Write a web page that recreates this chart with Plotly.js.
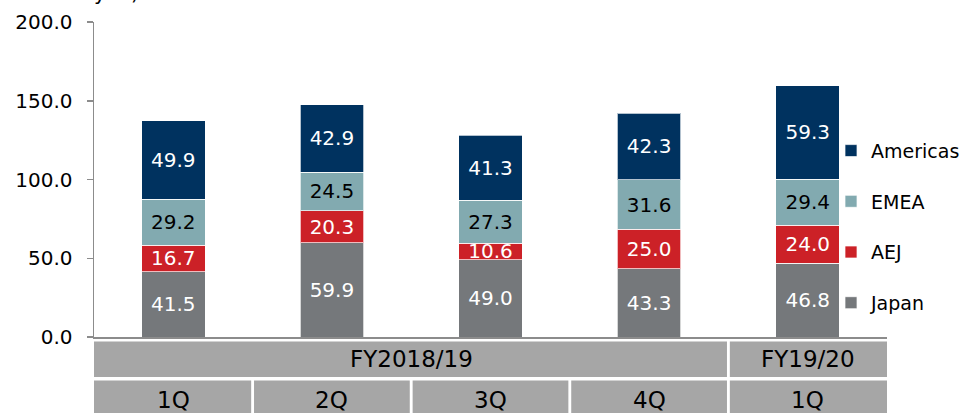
<!DOCTYPE html>
<html>
<head>
<meta charset="utf-8">
<script src="https://cdn.plot.ly/plotly-3.0.1.min.js"></script>
<style>
html,body{margin:0;padding:0;background:#fff;}
#chart{width:961px;height:413px;}
</style>
</head>
<body>
<div id="chart"></div>
<script>
// ---- data ----
const quarterLabels = ['1Q', '2Q', '3Q', '4Q', '1Q'];
const fiscalGroups = [
  {label: 'FY2018/19', start: 0, end: 3},
  {label: 'FY19/20', start: 4, end: 4}
];
const seriesNames = ['Japan', 'AEJ', 'EMEA', 'Americas'];
const japan    = [41.5, 59.9, 49.0, 43.3, 46.8];
const aej      = [16.7, 20.3, 10.6, 25.0, 24.0];
const emea     = [29.2, 24.5, 27.3, 31.6, 29.4];
const americas = [49.9, 42.9, 41.3, 42.3, 59.3];
const unitLabel = '(Billions of yen)';

// ---- styles ----
const seriesValues = [japan, aej, emea, americas];
const colors = ['#75787b', '#cc2127', '#82aab0', '#00325f'];
const labelColors = ['#ffffff', '#ffffff', '#000000', '#ffffff'];
const font = '"DejaVu Sans", Verdana, sans-serif';
const xIdx = quarterLabels.map((_, i) => i);

const traces = seriesNames.map((name, k) => ({
  type: 'bar',
  name: name,
  x: xIdx,
  y: seriesValues[k],
  width: 0.4,
  legendgroup: name,
  legendrank: seriesNames.length - k,
  marker: {color: colors[k], line: {color: 'rgba(255,255,255,0.7)', width: 1}},
  text: seriesValues[k].map(v => v.toFixed(1)),
  textposition: 'inside',
  insidetextanchor: 'middle',
  textangle: 0,
  constraintext: 'none',
  textfont: {family: font, size: 20, color: labelColors[k]},
  hoverinfo: 'skip'
}));

// table below the axis
const shapes = [];
const annotations = [];
const row1 = {y0: -0.014, y1: -0.127};
const row2 = {y0: -0.138, y1: -0.30};
const gap = 0.009;
const outer = 0.02;
const nCat = quarterLabels.length;
function cellX0(i) { return i === 0 ? -0.5 - outer : i - 0.5 + gap; }
function cellX1(i) { return i === nCat - 1 ? i + 0.5 + outer : i + 0.5 - gap; }
fiscalGroups.forEach(g => {
  shapes.push({type: 'rect', xref: 'x', yref: 'paper',
    x0: cellX0(g.start), x1: cellX1(g.end), y0: row1.y0, y1: row1.y1,
    fillcolor: '#a6a6a6', line: {width: 0}, layer: 'below'});
  annotations.push({xref: 'x', yref: 'paper', x: (g.start + g.end) / 2,
    y: -0.07, text: g.label, showarrow: false,
    xanchor: 'center', yanchor: 'middle',
    font: {family: font, size: 23, color: '#000'}});
});
quarterLabels.forEach((q, i) => {
  shapes.push({type: 'rect', xref: 'x', yref: 'paper',
    x0: cellX0(i), x1: cellX1(i), y0: row2.y0, y1: row2.y1,
    fillcolor: '#a6a6a6', line: {width: 0}, layer: 'below'});
  annotations.push({xref: 'x', yref: 'paper', x: i,
    y: -0.2, text: q, showarrow: false,
    xanchor: 'center', yanchor: 'middle',
    font: {family: font, size: 23, color: '#000'}});
});
annotations.push({xref: 'paper', yref: 'paper', x: 0.059, y: 1.048,
  xanchor: 'right', yanchor: 'bottom', text: unitLabel, showarrow: false,
  font: {family: font, size: 20, color: '#000'}});

const layout = {
  width: 961, height: 413,
  margin: {l: 94, r: 74, t: 22, b: 76, autoexpand: false},
  paper_bgcolor: '#fff', plot_bgcolor: '#fff',
  barmode: 'stack',
  bargap: 0.6,
  showlegend: true,
  legend: {
    x: 0.9294, xanchor: 'left', y: 0.35, yanchor: 'middle',
    traceorder: 'grouped', tracegroupgap: 23,
    font: {family: font, size: 19, color: '#000'},
    bgcolor: 'rgba(0,0,0,0)'
  },
  xaxis: {
    range: [-0.5, 4.5], showticklabels: false, ticks: '', showgrid: false,
    zeroline: false, showline: true, linecolor: '#8c8c8c', linewidth: 1.5,
    fixedrange: true
  },
  yaxis: {
    range: [0, 200], dtick: 50, tick0: 0, tickformat: '.1f',
    ticks: 'outside', ticklen: 6, tickcolor: '#8c8c8c', tickwidth: 1.5,
    showline: true, linecolor: '#8c8c8c', linewidth: 1.5,
    showgrid: false, zeroline: false,
    tickfont: {family: font, size: 20, color: '#000'},
    ticklabelstandoff: 10, fixedrange: true
  },
  shapes: shapes,
  annotations: annotations
};

Plotly.newPlot('chart', traces, layout, {displayModeBar: false, staticPlot: true});
</script>
</body>
</html>
